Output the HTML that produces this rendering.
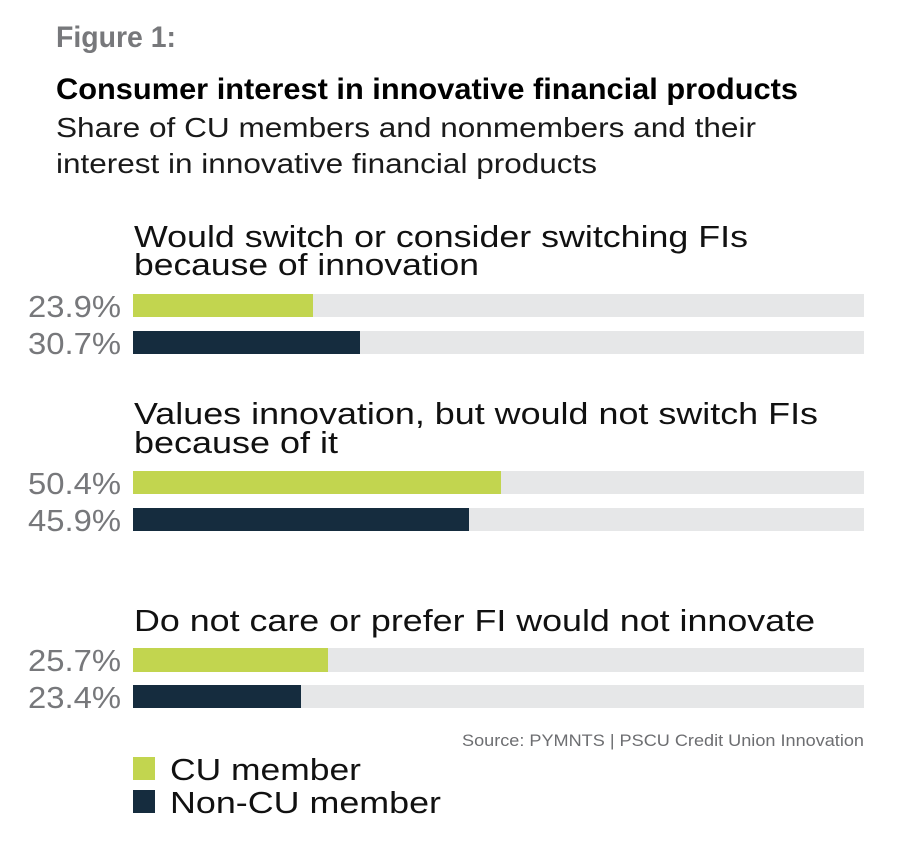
<!DOCTYPE html>
<html>
<head>
<meta charset="utf-8">
<style>
  html, body { margin: 0; padding: 0; background: #ffffff; }
  svg { display: block; }
  text { font-family: "Liberation Sans", Arial, sans-serif; }
</style>
</head>
<body>
<svg width="916" height="854" viewBox="0 0 916 854" xmlns="http://www.w3.org/2000/svg">
  <rect x="0" y="0" width="916" height="854" fill="#ffffff"/>

  <!-- Header -->
  <text x="56" y="47" font-size="30" font-weight="bold" fill="#77787b" textLength="120" lengthAdjust="spacingAndGlyphs">Figure 1:</text>
  <text x="56" y="99" font-size="30" font-weight="bold" fill="#000000" textLength="742" lengthAdjust="spacingAndGlyphs">Consumer interest in innovative financial products</text>
  <text x="56" y="137" font-size="28" fill="#1a1a1a" textLength="700" lengthAdjust="spacingAndGlyphs">Share of CU members and nonmembers and their</text>
  <text x="56" y="173" font-size="28" fill="#1a1a1a" textLength="541" lengthAdjust="spacingAndGlyphs">interest in innovative financial products</text>

  <!-- Category 1 -->
  <text x="134" y="247" font-size="31" fill="#111111" textLength="614" lengthAdjust="spacingAndGlyphs">Would switch or consider switching FIs</text>
  <text x="134" y="275" font-size="31" fill="#111111" textLength="345" lengthAdjust="spacingAndGlyphs">because of innovation</text>
  <rect x="133" y="294" width="731" height="23" fill="#e6e7e8"/>
  <rect x="133" y="294" width="180" height="23" fill="#c2d54f"/>
  <rect x="133" y="331" width="731" height="23" fill="#e6e7e8"/>
  <rect x="133" y="331" width="227" height="23" fill="#152c3e"/>
  <text x="28" y="317" font-size="31" fill="#77787b" textLength="93" lengthAdjust="spacingAndGlyphs">23.9%</text>
  <text x="28" y="354" font-size="31" fill="#77787b" textLength="93" lengthAdjust="spacingAndGlyphs">30.7%</text>

  <!-- Category 2 -->
  <text x="134" y="424" font-size="31" fill="#111111" textLength="684" lengthAdjust="spacingAndGlyphs">Values innovation, but would not switch FIs</text>
  <text x="134" y="453" font-size="31" fill="#111111" textLength="204" lengthAdjust="spacingAndGlyphs">because of it</text>
  <rect x="133" y="471" width="731" height="23" fill="#e6e7e8"/>
  <rect x="133" y="471" width="368" height="23" fill="#c2d54f"/>
  <rect x="133" y="508" width="731" height="23" fill="#e6e7e8"/>
  <rect x="133" y="508" width="336" height="23" fill="#152c3e"/>
  <text x="28" y="494" font-size="31" fill="#77787b" textLength="93" lengthAdjust="spacingAndGlyphs">50.4%</text>
  <text x="28" y="531" font-size="31" fill="#77787b" textLength="93" lengthAdjust="spacingAndGlyphs">45.9%</text>

  <!-- Category 3 -->
  <text x="134" y="631" font-size="31" fill="#111111" textLength="681" lengthAdjust="spacingAndGlyphs">Do not care or prefer FI would not innovate</text>
  <rect x="133" y="648" width="731" height="24" fill="#e6e7e8"/>
  <rect x="133" y="648" width="195" height="24" fill="#c2d54f"/>
  <rect x="133" y="685" width="731" height="23" fill="#e6e7e8"/>
  <rect x="133" y="685" width="168" height="23" fill="#152c3e"/>
  <text x="28" y="671" font-size="31" fill="#77787b" textLength="93" lengthAdjust="spacingAndGlyphs">25.7%</text>
  <text x="28" y="708" font-size="31" fill="#77787b" textLength="93" lengthAdjust="spacingAndGlyphs">23.4%</text>

  <!-- Source -->
  <text x="462" y="746" font-size="17" fill="#6d6e71" textLength="402" lengthAdjust="spacingAndGlyphs">Source: PYMNTS | PSCU Credit Union Innovation</text>

  <!-- Legend -->
  <rect x="133" y="757" width="22" height="23" fill="#c2d54f"/>
  <text x="170" y="780" font-size="31" fill="#111111" textLength="191" lengthAdjust="spacingAndGlyphs">CU member</text>
  <rect x="133" y="790" width="22" height="23" fill="#152c3e"/>
  <text x="170" y="813" font-size="31" fill="#111111" textLength="271" lengthAdjust="spacingAndGlyphs">Non-CU member</text>
</svg>
</body>
</html>
